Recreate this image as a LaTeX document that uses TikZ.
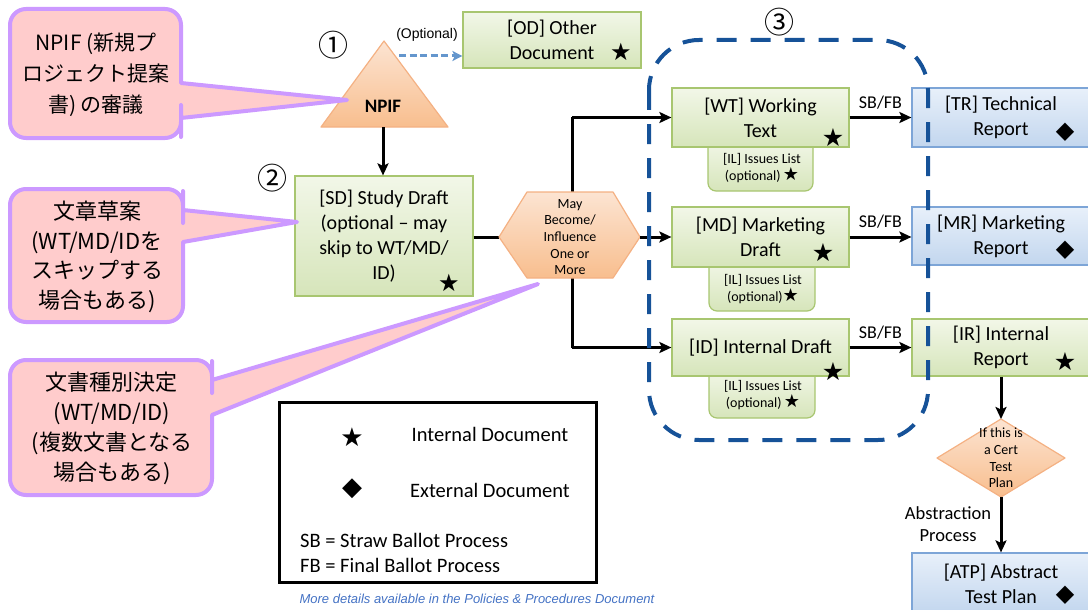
\documentclass[tikz,border=0pt]{standalone}
\usepackage{fontspec}
\setmainfont{Carlito}
\newfontfamily\jpf{Noto Sans CJK JP}
\newfontfamily\arialf{Liberation Sans}
\newfontfamily\symf{DejaVu Sans}
\usetikzlibrary{arrows.meta}
\definecolor{grnB}{RGB}{168,198,112}
\definecolor{grnT}{RGB}{242,247,232}
\definecolor{grnBot}{RGB}{214,229,186}
\definecolor{bluB}{RGB}{125,165,215}
\definecolor{bluT}{RGB}{232,240,250}
\definecolor{bluBot}{RGB}{194,214,238}
\definecolor{orB}{RGB}{244,177,131}
\definecolor{orT}{RGB}{252,228,210}
\definecolor{orBot}{RGB}{248,190,142}
\definecolor{callF}{RGB}{255,204,204}
\definecolor{callB}{RGB}{204,153,255}
\definecolor{regB}{RGB}{22,82,152}
\definecolor{optB}{RGB}{100,150,205}
\definecolor{noteB}{RGB}{68,114,196}
\newcommand\fs[2]{\fontsize{#1}{#2}\selectfont}
\newcommand\stsym[1][24]{{\symf\fontsize{#1}{#1}\selectfont ★}}
\newcommand\dmsym[1][24]{{\symf\fontsize{#1}{#1}\selectfont ◆}}
\begin{document}
\begin{tikzpicture}[x=1pt,y=-1pt,
  line/.style={line width=3pt},
  arr/.style={line width=3pt,-{Stealth[length=12pt,width=11pt,inset=2.5pt]}},
  optarr/.style={draw=optB,line width=3pt,dash pattern=on 7pt off 3.5pt,-{Stealth[length=10pt,width=10pt,inset=2.5pt]}},
  gbox/.style={draw=grnB,line width=1.2pt,top color=grnT,bottom color=grnBot,align=center,inner sep=0pt,font=\fs{20}{25}},
  bbox/.style={draw=bluB,line width=1.2pt,top color=bluT,bottom color=bluBot,align=center,inner sep=0pt,font=\fs{20}{25}},
  orshape/.style={draw=orB,line width=1.2pt,top color=orT,bottom color=orBot,line join=round},
  ilbox/.style={draw=grnB,line width=1.2pt,top color=grnT,bottom color=grnBot,rounded corners=8pt},
  small/.style={align=center,inner sep=0pt,font=\fs{14}{16.7}},
  lbl/.style={inner sep=0pt,font=\fs{18}{22}},
  callout/.style={fill=callF,draw=callB,line width=4pt,line join=round},
  calltext/.style={align=center,inner sep=0pt},
  region/.style={draw=regB,line width=4pt,dash pattern=on 20pt off 14pt,rounded corners=50pt},
  num/.style={inner sep=0pt,font=\jpf\fs{30}{30}},
  sym/.style={inner sep=0pt},
  legtext/.style={inner sep=0pt,font=\fs{20.5}{24}}
]
\useasboundingbox (0,0) rectangle (1088,610);
\clip (0,0) rectangle (1088,610);

% circled numbers
\node[num] (n1) at (333,45) {①};
\node[num] (n2) at (272,178) {②};
\node[num] (n3) at (779,22) {③};

% NPIF triangle
\path[orshape] (384,41) -- (448,127) -- (321,127) -- cycle;
\node[inner sep=0pt,font=\bfseries\fs{19}{22}] (npif) at (383,106) {NPIF};
\coordinate (npifB) at (383,127);
\coordinate (npifR) at (399,56);

% OD box
\node[gbox,minimum width=178pt,minimum height=56pt] (od) at (552,40) {[OD] Other\\Document};
\node[sym] (sOD) at (621,52) {\stsym};
\draw[optarr] (npifR) -- (npifR -| od.west);
\node[inner sep=0pt,font=\arialf\fs{14}{16}] (optl) at (427,35) {(Optional)};

% SD box
\node[gbox,minimum width=178pt,minimum height=120pt] (sd) at (384,236) {[SD] Study Draft\\(optional – may\\skip to WT/MD/\\ID)};
\node[sym] (sSD) at (449,283) {\stsym};
\draw[arr] (npifB) -- (npifB |- sd.north);

% junction and hexagon
\coordinate (jT) at (572,117.5);
\coordinate (jB) at (572,347.5);
\coordinate (hexL) at (499,237);
\coordinate (hexR) at (640,237);
\draw[line] (jT) -- (jB);
\draw[line] (sd.east |- hexL) -- (hexL);
\path[orshape] (499,237) -- (527,192) -- (613,192) -- (640,237) -- (613,278) -- (527,278) -- cycle;
\node[small] (hex) at (570,237) {May\\Become/\\Influence\\One or\\More};

% IL boxes (behind drafts)
\path[ilbox] (708,140) -- (708,191) -- (813,191) -- (813,140);
\node[small] (il1) at (762,168) {[IL] Issues List\\(optional)\,\stsym[18]};
\path[ilbox] (709,260) -- (709,311) -- (815,311) -- (815,260);
\node[small] (il2) at (763,289) {[IL] Issues List\\(optional)\stsym[18]};
\path[ilbox] (709,370) -- (709,418) -- (815,418) -- (815,370);
\node[small] (il3) at (763,395) {[IL] Issues List\\(optional)\,\stsym[18]};

% drafts
\node[gbox,minimum width=177pt,minimum height=59pt] (wt) at (760.5,117.5) {[WT] Working\\Text};
\node[sym] (sWT) at (833,138) {\stsym[25]};
\node[gbox,minimum width=177pt,minimum height=60pt] (md) at (760.5,237) {[MD] Marketing\\Draft};
\node[sym] (sMD) at (823,253) {\stsym[25]};
\node[gbox,minimum width=177pt,minimum height=57pt] (id) at (760.5,347.5) {[ID] Internal Draft};
\node[sym] (sID) at (833,372) {\stsym[25]};

\draw[arr] (jT) -- (wt.west);
\draw[arr] (hexR) -- (hexR -| md.west);
\draw[arr] (jB) -- (id.west);

% reports
\node[bbox,minimum width=178pt,minimum height=59pt] (tr) at (1001,117.5) {[TR] Technical\\Report};
\node[sym] (sTR) at (1065,132) {\dmsym};
\node[bbox,minimum width=178pt,minimum height=58pt] (mr) at (1001,236) {[MR] Marketing\\Report};
\node[sym] (sMR) at (1065,250) {\dmsym};
\node[gbox,minimum width=178pt,minimum height=57pt] (ir) at (1001,347.5) {[IR] Internal\\Report};
\node[sym] (sIR) at (1065,362) {\stsym[25]};

\draw[arr] (wt.east) -- (wt.east -| tr.west) node[midway,above=7pt,lbl] (l1) {SB/FB};
\draw[arr] (md.east) -- (md.east -| mr.west) node[midway,above=7pt,lbl] (l2) {SB/FB};
\draw[arr] (id.east) -- (id.east -| ir.west) node[midway,above=7pt,lbl] (l3) {SB/FB};

% diamond and ATP
\coordinate (dT) at (1001,419);
\coordinate (dB) at (1001,497);
\path[orshape] (1001,419) -- (1065,458) -- (1001,497) -- (937,458) -- cycle;
\node[small] (dia) at (1001,458) {If this is\\a Cert\\Test\\Plan};
\node[bbox,minimum width=178pt,minimum height=61pt] (atp) at (1001,583.5) {[ATP] Abstract\\Test Plan};
\node[sym] (sATP) at (1065,595) {\dmsym};
\draw[arr] (ir.south) -- (dT);
\draw[arr] (dB) -- (atp.north);
\node[lbl,align=center,font=\fs{18.5}{22}] (abs) at (948,524) {Abstraction\\Process};

% dashed region
\draw[region] (649,40) rectangle (928,440);

% legend
\node[draw,line width=3pt,minimum width=317pt,minimum height=180pt,inner sep=0pt] (leg) at (437.5,492.5) {};
\node[sym] (lgS) at (352,437) {\stsym[26]};
\node[sym] (lgD) at (352,489) {\dmsym[26]};
\node[legtext] (lgI) at (490,434) {Internal Document};
\node[legtext] (lgE) at (490,490) {External Document};
\node[legtext,anchor=west] (lgSB) at (300,540) {SB = Straw Ballot Process};
\node[legtext,anchor=west] (lgFB) at (300,565) {FB = Final Ballot Process};
\node[inner sep=0pt,text=noteB,font=\arialf\itshape\fs{13}{15}] (note) at (477,599) {More details available in the Policies \& Procedures Document};

% callouts
\draw[callout] (347,100) -- (181,83) -- (181,80) [rounded corners=16pt] -- (181,9) -- (10,9) -- (10,138) -- (181,138) -- (181,121) [sharp corners] -- (181,118) -- cycle;
\node[calltext,font=\jpf\fs{21}{31}] (c1) at (96,75) {NPIF (新規プ\\ロジェクト提案\\書) の審議};
\draw[callout] (297,222) -- (183,242) -- (183,245) [rounded corners=16pt] -- (183,322) -- (10,322) -- (10,189) -- (183,189) -- (183,207) [sharp corners] -- (183,210) -- cycle;
\node[calltext,font=\jpf\fs{22}{29.5}] (c2) at (97,257) {文章草案\\(WT/MD/IDを\\スキップする\\場合もある)};
\draw[callout] (538,284) -- (212,415) -- (212,418) [rounded corners=16pt] -- (212,495) -- (10,495) -- (10,360) -- (212,360) -- (212,377) [sharp corners] -- (212,380) -- cycle;
\node[calltext,font=\jpf\fs{22}{30}] (c3) at (112,428) {文書種別決定\\(WT/MD/ID)\\(複数文書となる\\場合もある)};
\end{tikzpicture}
\end{document}
